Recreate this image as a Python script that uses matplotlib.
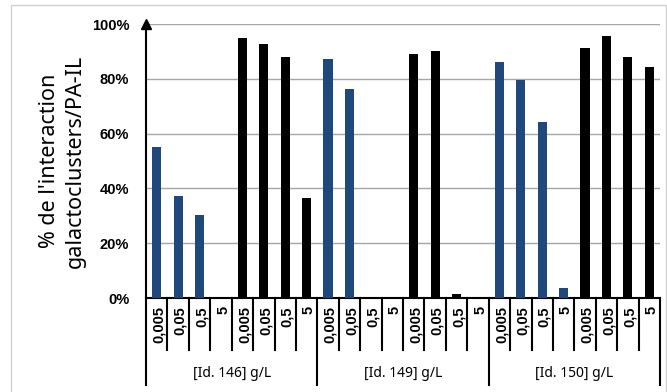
import matplotlib
matplotlib.use("Agg")
from matplotlib import pyplot as plt
from matplotlib import transforms as mtrans
from matplotlib.patches import Rectangle

plt.rcParams['font.family'] = ['Noto Sans', 'DejaVu Sans']
BOLD = ['Liberation Sans', 'DejaVu Sans']

# data (percent)
groups = ['[Id. 146] g/L', '[Id. 149] g/L', '[Id. 150] g/L']
doses = ['0,005', '0,05', '0,5', '5']
blue_146 = [55, 37.3, 30.2, 0]
black_146 = [94.8, 92.7, 88.1, 36.4]
blue_149 = [87.1, 76.4, 0, 0]
black_149 = [88.9, 90.3, 1.3, 0]
blue_150 = [86.2, 79.6, 64.2, 3.8]
black_150 = [91.1, 95.6, 88.0, 84.4]

blue = '#1f497d'
values = []
colors = []
for b, k in [(blue_146, black_146), (blue_149, black_149), (blue_150, black_150)]:
    values += b + k
    colors += [blue] * len(b) + ['black'] * len(k)
labels = doses * 6
n = len(values)
x = list(range(n))

fig = plt.figure(figsize=(6.67, 3.92), dpi=100)
ax = fig.add_axes([146 / 667, 1 - 298 / 392, 514 / 667, 274 / 392])

ax.bar(x, values, width=0.43, color=colors, zorder=3)
ax.set_xlim(-0.5, n - 0.5)
ax.set_ylim(0, 100)
ax.set_yticks([0, 20, 40, 60, 80, 100])
ax.set_yticklabels(['%d%%' % v for v in [0, 20, 40, 60, 80, 100]],
                   fontsize=10.5, fontweight='bold', family=BOLD)
ax.tick_params(axis='y', length=0, pad=12)
ax.set_xticks([])
ax.grid(axis='y', color='#a6a6a6', lw=1, zorder=0)
for s in ['top', 'right']:
    ax.spines[s].set_visible(False)
ax.spines['left'].set_linewidth(1.5)
ax.spines['bottom'].set_linewidth(1.5)
ax.plot(0, 1.0, marker='^', color='black', markersize=7,
        transform=ax.transAxes, clip_on=False, zorder=5)

ax.set_ylabel("% de l'interaction\ngalactoclusters/PA-IL", fontsize=15.5,
              labelpad=4, linespacing=1.35)

# category table under the axis
trans = mtrans.blended_transform_factory(ax.transData, ax.transAxes)
for i in range(n + 1):
    bottom = -0.3175 if i % 8 == 0 else -0.19
    ax.plot([i - 0.5, i - 0.5], [0, bottom], color='black', lw=1.5,
            transform=trans, clip_on=False)
for i, lab in enumerate(labels):
    ax.text(i + 0.1, -0.03, lab, rotation=90, ha='center', va='top',
            fontsize=10.5, fontweight='bold', family=BOLD, transform=trans)
for g, name in enumerate(groups):
    ax.text(g * 8 + 3.5, -0.274, name, ha='center', va='center',
            fontsize=10, transform=trans)

fig.patches.append(Rectangle((11 / 667, -0.01), 655 / 667, 1 - 5 / 392 + 0.01,
                             transform=fig.transFigure, fill=False,
                             edgecolor='#d0d0d0', lw=1))

fig.savefig('out.png', dpi=100)
